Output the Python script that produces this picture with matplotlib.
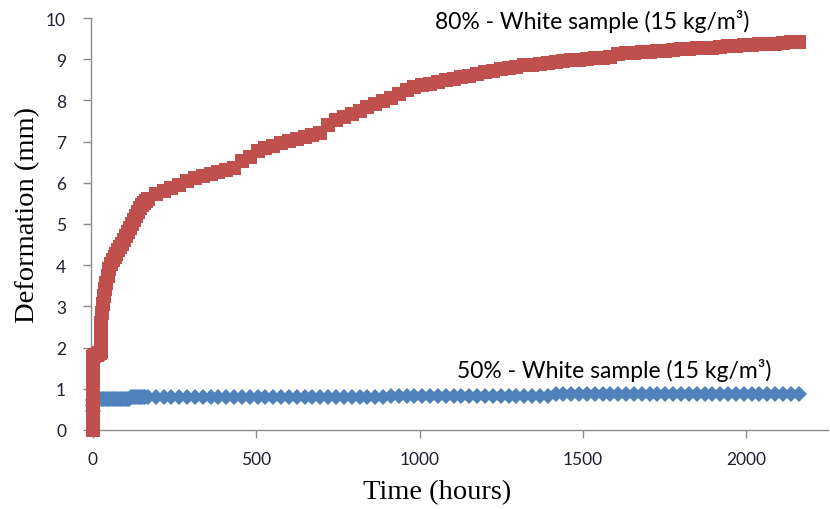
import matplotlib
matplotlib.use("Agg")
import matplotlib.pyplot as plt
import numpy as np

# ---- data ----
red_early_t = [0, 0, 0, 0, 0, 0, 0, 0, 1, 2, 4, 6, 8, 10, 12, 14, 16, 18, 20, 22, 24, 24, 24,
               26, 28, 30, 33, 36, 40, 45, 50, 55, 60, 66, 72, 78, 84, 90, 96, 102, 108, 114,
               120, 126, 132, 138, 144, 150, 156, 162]
red_early_v = [0.0, 0.25, 0.5, 0.75, 1.0, 1.25, 1.5, 1.75, 1.78, 1.80, 1.80, 1.81, 1.82, 1.82,
               1.83, 1.84, 1.85, 1.86, 1.87, 1.88, 1.9, 2.15, 2.4, 2.6, 2.85, 3.05, 3.25, 3.42,
               3.58, 3.75, 3.9, 4.02, 4.12, 4.2, 4.28, 4.36, 4.44, 4.52, 4.6, 4.7, 4.8, 4.9,
               5.0, 5.1, 5.2, 5.3, 5.38, 5.45, 5.5, 5.55]

daily_t = list(range(168, 2161, 24))   # one reading per day after the first week
red_daily_v = [5.60, 5.72, 5.80, 5.88, 5.95, 6.05, 6.12, 6.17, 6.22, 6.27, 6.32, 6.36, 6.52,
               6.62, 6.76, 6.84, 6.90, 6.96, 7.02, 7.07, 7.12, 7.17, 7.22, 7.40, 7.52, 7.60,
               7.68, 7.75, 7.83, 7.91, 7.98, 8.05, 8.15, 8.25, 8.32, 8.37, 8.41, 8.45, 8.49,
               8.53, 8.57, 8.60, 8.64, 8.68, 8.72, 8.76, 8.79, 8.82, 8.85, 8.87, 8.89, 8.91,
               8.93, 8.95, 8.97, 8.99, 9.01, 9.02, 9.03, 9.05, 9.12, 9.14, 9.16, 9.17, 9.18,
               9.20, 9.21, 9.22, 9.24, 9.25, 9.26, 9.27, 9.28, 9.30, 9.31, 9.32, 9.34, 9.35,
               9.36, 9.37, 9.38, 9.39, 9.41, 9.42]

blue_early_t = [0, 0, 0, 3, 6, 10, 15, 20, 25, 30, 35, 40, 45, 50, 55, 60, 65, 70, 75, 80, 85,
                90, 95, 100, 105, 110, 115, 120, 125, 130, 135, 140, 145, 150, 155, 160]
blue_early_v = [0.45, 0.60, 0.72, 0.76, 0.76, 0.76, 0.76, 0.76, 0.76, 0.76, 0.76, 0.76, 0.76,
                0.76, 0.76, 0.76, 0.76, 0.76, 0.76, 0.76, 0.76, 0.76, 0.76, 0.76, 0.76, 0.76,
                0.79, 0.79, 0.79, 0.79, 0.79, 0.79, 0.79, 0.79, 0.79, 0.79]
blue_daily_v = [0.80, 0.80, 0.80, 0.80, 0.79, 0.80, 0.80, 0.80, 0.80, 0.80, 0.80, 0.80, 0.80,
                0.80, 0.80, 0.80, 0.80, 0.80, 0.80, 0.80, 0.80, 0.80, 0.80, 0.80, 0.80, 0.81,
                0.81, 0.81, 0.81, 0.81, 0.81, 0.82, 0.82, 0.82, 0.82, 0.82, 0.82, 0.82, 0.82,
                0.82, 0.82, 0.82, 0.82, 0.82, 0.82, 0.83, 0.83, 0.83, 0.83, 0.83, 0.83, 0.83,
                0.87, 0.87, 0.87, 0.87, 0.87, 0.87, 0.87, 0.87, 0.87, 0.87, 0.87, 0.87, 0.87,
                0.87, 0.87, 0.87, 0.87, 0.87, 0.87, 0.87, 0.87, 0.87, 0.87, 0.88, 0.88, 0.88,
                0.88, 0.88, 0.88, 0.88, 0.88, 0.88]

red_label = "80% - White sample (15 kg/m³)"
blue_label = "50% - White sample (15 kg/m³)"
x_ticks = [0, 500, 1000, 1500, 2000]
y_ticks = list(range(0, 11))

RED = "#C0504D"
BLUE = "#4F81BD"

fig = plt.figure(figsize=(8.3, 5.1), dpi=100)
ax = fig.add_axes([91 / 830, 79 / 510, (828 - 91) / 830, (431 - 19) / 510])

ax.plot(blue_early_t + daily_t, blue_early_v + blue_daily_v, linestyle="none", marker="D",
        markersize=8.4, color=BLUE, markeredgewidth=0, clip_on=False, zorder=3)
ax.plot(red_early_t + daily_t, red_early_v + red_daily_v, linestyle="none", marker="s",
        markersize=9.8, color=RED, markeredgewidth=0, clip_on=False, zorder=4)

ax.set_xlim(-6, 2250)
ax.set_ylim(0, 10)
ax.set_xticks(x_ticks)
ax.set_yticks(y_ticks)

for s in ["top", "right"]:
    ax.spines[s].set_visible(False)
for s in ["left", "bottom"]:
    ax.spines[s].set_color("#8c8c8c")
    ax.spines[s].set_linewidth(1.0)

ax.tick_params(axis="both", direction="out", length=6, width=1.0, color="#8c8c8c",
               labelcolor="#1f1f2f", labelsize=12.5)
ax.tick_params(axis="y", pad=12)
ax.tick_params(axis="x", pad=9)
for lab in ax.get_xticklabels() + ax.get_yticklabels():
    lab.set_family("Lato")

fig.text(437 / 830, 1 - 493 / 510, "Time (hours)", family="Liberation Serif", fontsize=20.5,
         ha="center", va="center")
fig.text(28 / 830, 1 - 215 / 510, "Deformation (mm)", family="Liberation Serif", fontsize=20.5,
         ha="center", va="center", rotation=90)

ax.text(1047, 9.93, red_label, family="Lato", fontsize=16.5, ha="left", va="center")
ax.text(1115, 1.48, blue_label, family="Lato", fontsize=16.5, ha="left", va="center")

fig.savefig("out.png", dpi=100)
